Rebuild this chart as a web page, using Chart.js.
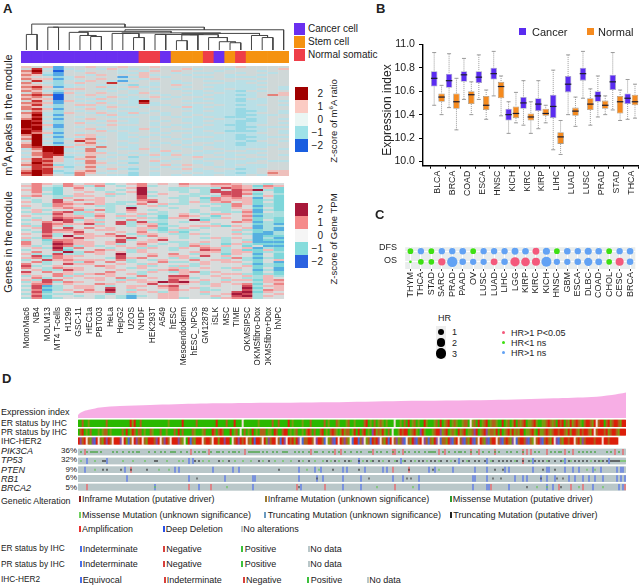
<!DOCTYPE html>
<html>
<head>
<meta charset="utf-8">
<script src="https://cdn.jsdelivr.net/npm/chart.js@4/dist/chart.umd.min.js"></script>
<style>
  html, body { margin: 0; padding: 0; background: #fff; }
  #page { position: relative; width: 644px; height: 586px; overflow: hidden; font-family: "Liberation Sans", Arial, sans-serif; color: #222; }
  canvas { position: absolute; display: block; }
  .txt { position: absolute; white-space: nowrap; line-height: 1; }
  .box { position: absolute; }
  sup { font-size: 0.65em; line-height: 0; }
</style>
</head>
<body>
<div id="page"></div>
<script>
// panel A: samples and z-score rows (digits 0-8 = z from -2 to 2, grouped by five columns)
const samples = ['MonoMac6', 'NB4', 'MOLM13', 'MT4 T-cells', 'H1299', 'GSC-11', 'HEC1a', 'PBT003', 'HeLa', 'HepG2', 'U2OS', 'NHDF', 'HEK293T', 'A549', 'hESC', 'Mesoendoderm', 'hESC_NPCs', 'GM12878', 'iSLK', 'MSC', 'TIME', 'OKMSIPSC', 'OKMSfibro-Dox', 'OKMSfibro+Dox', 'hNPC'];
const sampleTypes = ['c', 'c', 'c', 'c', 'c', 'c', 'c', 'c', 'c', 'c', 'c', 'n', 'n', 'c', 's', 's', 's', 'n', 'c', 's', 'n', 's', 's', 's', 's'];
const m6aRows = [
  '54514 45445 44544 44444 54444', '47313 44354 34444 53443 44445', '68404 34443 43545 44434 44344', '57314 45443 35443 43344 34434',
  '65214 43544 45344 34443 44344', '54423 54441 35434 43343 33444', '65513 44543 43544 44444 44344', '47424 35431 34443 44334 33444',
  '64324 54474 44343 34443 34344', '55423 34343 24345 44333 33444', '67513 44534 53444 34433 33343', '56435 54343 44343 44334 33443',
  '65324 44434 34444 33433 24344', '46415 34544 35344 43343 33445', '67604 45443 44434 33433 23465', '56404 34354 34543 44333 33444',
  '65504 43543 33434 43433 24344', '47415 34344 38444 33333 23343', '66514 43534 37344 44433 33344', '57424 55443 34334 33343 23443',
  '65324 34354 43443 53433 33344', '67514 45343 34444 33333 23344', '46424 34434 34344 43433 22343', '67325 43543 53434 33333 23443',
  '58314 44353 34434 34333 22334', '57424 34434 44343 43432 23344', '68314 45443 34344 33343 32343', '87424 34354 34434 33433 22344',
  '88324 53443 34344 43333 23343', '87514 44354 44343 33432 23444', '88414 34443 34434 34333 22333', '78324 45343 35344 43333 23344',
  '87424 44534 34343 33432 22343', '86514 34443 44434 43343 33443', '68324 55443 34344 33333 23344', '58414 35343 43434 34433 22333',
  '68323 56443 34443 43333 23344', '48424 75344 34344 33343 32443', '58314 46443 44434 34433 23344', '68423 55343 34343 44333 23334',
  '67885 34644 34444 33433 33344', '36883 46443 35344 43443 34443', '45883 36344 44353 44334 43344', '36784 45534 34434 43343 33444',
  '46773 35443 43535 33433 44343', '35752 46434 24344 45443 34444', '57653 55344 34443 44334 43344', '47753 36443 34534 43443 33433',
  '58643 46534 24344 43343 34444', '67723 35443 44353 54343 43344', '47652 46344 34434 44433 33344', '57743 45453 24343 53444 23444',
  '68723 56434 34444 43343 33455', '78732 65344 24344 34333 23465', '68643 64433 24343 43343 34355'
];
const tpmRows = [
  '46546 45534 56454 65566 54434', '56436 53643 46344 54455 65265', '46324 64344 58443 33337 65352', '56324 54343 48443 34374 76832',
  '46424 45434 58344 34377 75342', '45324 54453 48454 43347 76243', '56433 55434 47344 33436 74352', '34435 44544 47443 34265 65142',
  '43474 65544 46644 34365 55232', '53475 44543 35744 35356 45242', '44366 56533 46453 34433 65232', '54365 44334 34534 44343 64132',
  '34456 54434 84443 44433 54242', '45344 63634 64344 43433 45132', '35467 35434 54434 43443 36143', '43375 33543 45334 54355 45233',
  '54465 53645 53424 65424 46133', '43476 64543 45325 54335 45232', '35487 35344 64434 48244 46242', '44657 45547 37334 34544 65132',
  '34765 57347 35524 44434 44231', '53753 44544 34633 45552 54133', '45747 46454 45524 54344 45131', '34766 54554 45323 33444 53231',
  '43755 74445 46435 24444 34213', '54634 65464 35543 35344 53113', '44738 45557 43644 34444 44122', '53645 75445 74454 34353 54131',
  '34266 54447 34574 44443 43122', '64376 55457 45543 34543 45111', '64387 55453 46434 35342 53222', '53476 35345 45344 36545 42411',
  '45383 64434 53543 54653 45132', '34472 44654 35443 44763 52252', '46438 36545 35444 45553 55233', '53473 34548 44546 43542 54142',
  '47265 54447 44645 54745 44242', '56365 44437 56443 53443 63132', '34756 55546 34354 46455 43245', '46345 36464 34463 34545 54241',
  '64347 55445 43544 43544 43132', '73454 44654 45343 53444 45232', '64365 54454 35445 34543 54241', '45337 54445 44356 54444 34131',
  '74645 44464 43543 56354 44242', '54465 35654 53444 54345 53232', '35463 54454 46447 74454 45353', '46345 45546 34546 63445 43354',
  '53764 44543 55447 54543 55256', '35736 54445 45587 85345 44355', '46645 44654 44745 54354 56246', '37134 55434 55467 44454 47355',
  '47234 55474 54456 45344 48245', '36135 46484 35446 54334 47365', '47244 65574 54535 44544 78254', '36333 44434 34455 44345 87345',
  '47244 34343 13455 44454 78354', '36234 44343 14455 34435 66344'
];
// dendrogram merges: left x, left height, right x, right height, merge height
const dendroMerges = [
  [0.5, 0, 1.5, 0, 15], [2.5, 0, 3.5, 0, 22], [6.5, 0, 7.5, 0, 13], [5.5, 0, 7, 13, 14], [4.5, 0, 6.25, 14, 17],
  [10.5, 0, 11.5, 0, 12], [9.5, 0, 11, 12, 16], [8.5, 0, 10.25, 16, 16], [12.5, 0, 13.5, 0, 15], [14.5, 0, 15.5, 0, 9],
  [19.5, 0, 20.5, 0, 7], [18.5, 0, 20, 7, 8], [17.5, 0, 19.25, 8, 12], [22.5, 0, 23.5, 0, 12], [21.5, 0, 23, 12, 14],
  [15, 9, 16.5, 0, 14.5], [15.75, 14.5, 18.4, 12, 14.8], [13, 15, 17, 14.8, 15], [15, 15, 22.25, 14, 16],
  [9.4, 16, 18.6, 16, 16.5], [5.4, 17, 14, 16.5, 18], [9.7, 18, 24.5, 0, 19.5], [3, 22, 17.1, 19.5, 22], [1, 15, 9.7, 22, 25]
];

// panel B: expression index boxes
const tumorTypes = ['BLCA', 'BRCA', 'COAD', 'ESCA', 'HNSC', 'KICH', 'KIRC', 'KIRP', 'LIHC', 'LUAD', 'LUSC', 'PRAD', 'STAD', 'THCA'];
const exprTicks = [10.0, 10.2, 10.4, 10.6, 10.8, 11.0];
const cancerHigh = [10.93, 10.92, 10.88, 10.91, 10.94, 10.51, 10.69, 10.69, 10.78, 10.91, 10.94, 10.73, 10.93, 10.70];
const cancerQ3 = [10.77, 10.75, 10.77, 10.77, 10.80, 10.45, 10.55, 10.54, 10.57, 10.73, 10.80, 10.60, 10.74, 10.58];
const cancerMed = [10.71, 10.69, 10.74, 10.72, 10.75, 10.40, 10.50, 10.49, 10.47, 10.66, 10.75, 10.56, 10.68, 10.54];
const cancerQ1 = [10.64, 10.63, 10.68, 10.67, 10.70, 10.35, 10.45, 10.43, 10.37, 10.59, 10.69, 10.51, 10.61, 10.49];
const cancerLow = [10.48, 10.46, 10.53, 10.53, 10.56, 10.24, 10.31, 10.28, 10.10, 10.40, 10.54, 10.38, 10.44, 10.36];
const normalHigh = [10.65, 10.71, 10.68, 10.61, 10.73, 10.59, 10.51, 10.48, 10.35, 10.55, 10.62, 10.56, 10.61, 10.66];
const normalQ3 = [10.58, 10.58, 10.60, 10.56, 10.68, 10.47, 10.41, 10.45, 10.25, 10.46, 10.54, 10.52, 10.56, 10.57];
const normalMed = [10.55, 10.51, 10.57, 10.48, 10.64, 10.41, 10.38, 10.41, 10.21, 10.43, 10.49, 10.48, 10.51, 10.51];
const normalQ1 = [10.51, 10.45, 10.49, 10.44, 10.54, 10.37, 10.35, 10.39, 10.15, 10.39, 10.44, 10.45, 10.41, 10.48];
const normalLow = [10.40, 10.27, 10.40, 10.36, 10.39, 10.33, 10.24, 10.33, 10.06, 10.30, 10.31, 10.40, 10.35, 10.37];

// panel C: hazard ratios, r = significant, g = HR<1, b = HR>1 ns
const survivalTypes = ['THYM', 'THCA', 'STAD', 'SARC', 'PRAD', 'PAAD', 'OV', 'LUSC', 'LUAD', 'LIHC', 'LGG', 'KIRP', 'KIRC', 'KICH', 'HNSC', 'GBM', 'ESCA', 'DLBC', 'COAD', 'CHOL', 'CESC', 'BRCA'];
const dfsHR = [0.9, 1.1, 0.9, 1.1, 1.1, 1.2, 0.9, 1.1, 1.1, 1.1, 1.3, 1.2, 1.3, 1.4, 0.9, 1.2, 1.1, 1.4, 1.2, 0.9, 1.1, 1.2];
const osHR = [0.2, 0.9, 0.9, 1.5, 3.0, 1.2, 1.1, 1.1, 1.3, 1.2, 2.4, 2.1, 1.8, 2.8, 1.1, 1.1, 1.2, 1.9, 1.3, 0.9, 1.8, 1.2];
const dfsClass = 'gbgbbbgbbbbbrbgbbbbgbb';
const osClass = 'gggrbbbbrbrrrbbbbbbgrb';

// panel D: rank-ordered expression curve and clinical status per sample
const sampleCount = 274;
const exprRank = [0, 1, 3, 6, 11, 21, 36, 61, 86, 126, 161, 206, 237, 256, 266, 273];
const exprIndex = [3, 5, 7, 8.5, 10.5, 12, 13, 14.5, 15, 15.7, 17, 18, 19.7, 21, 23, 25.5];
const erStatus = 'ggnggoggggggggngggggggggggrorggnggggggggg' + 'ggggoggggggrggggggngggggggggrggggngggrgg' + 'gwgggggggoggggggnggnggggrgoggggogggngggg' + 'ggngogggnogggonggoggggnrgogngonogogggwgg' + 'ogngrgongoggrogggongrgonrgonoggonngwongr' + 'gonrgonnoggrgongorgnonrgoonroggoonrnongr' + 'nrgnoronrnognrrnorwnrrgnronrrnorrr';
const prStatus = 'gnrgogngggogonngogggggngrgorngnngoggnogg' + 'gnggogggngrgnggggnogggongggrngnrngggrgon' + 'gwgngogrgognnngoogrnggnrrgogonggognrngng' + 'gnrgognrnogoronngorgrgnrgogpronorogngwgg' + 'ornrrgonrogprogggonrrponrgonogronrgoonpr' + 'gonrponnorgrgonroronorrgoonrogroonrnonrr' + 'nrrnororrnornrrnorwnrrrnronrrnorrrr';
const her2Status = 'rpnrwnopurwnorprnwrrrpwrounwrpnrwnorrrnp' + 'rwnprnwrrrpnowgrunorrrwnrrnwrrorrprrgwnr' + 'prnrwnorurrnwropnrrwnurpwrnrorpwunnrrnwp' + 'rrnuwonpurwrnpnowurrunpwonurnrpwnorurwnp' + 'onpuwnorpunrwpnunorpwunnorpunrwnpunorpun' + 'wrnopunrrwnpunrnopwunrrnpunownrpunrnorw' + 'punorrnrrwnropnrrrrnrrrwrrnrrrr';

// panel D: mutation tracks, values are sample ranks
const pik3caAmp = [3, 56, 65, 83, 116, 128, 131, 147, 157, 158, 162, 180, 183, 196, 200, 208, 222, 224, 226, 234, 243, 247, 268, 272];
const pik3caMis = [1, 4, 6, 7, 8, 9, 11, 17, 19, 22, 25, 27, 29, 30, 35, 38, 41, 43, 46, 47, 48, 51, 54, 58, 60, 62, 63, 66, 69, 70, 72, 75, 77, 78, 80, 85, 86, 87, 88, 89, 90, 92, 94, 97, 99, 102, 103, 104, 108, 110, 112, 115, 118, 119, 122, 125, 127, 130, 133, 136, 139, 141, 145, 146, 149, 151, 154, 157, 160, 163, 165, 168, 170, 173, 175, 176, 177, 178, 182, 185, 188, 190, 191, 193, 196, 199, 202, 205, 208, 210, 214, 216, 219, 222, 228, 230, 236, 238, 240, 241, 245, 250, 252, 254, 256, 258, 264, 266, 270];
const tp53Del = [4, 14, 55, 57, 140, 161, 190, 204, 227, 243, 265];
const tp53Amp = [222];
const tp53Mis = [1, 8, 22, 27, 33, 44, 50, 52, 62, 65, 72, 78, 82, 86, 92, 98, 102, 106, 112, 118, 122, 126, 130, 136, 142, 146, 152, 158, 162, 168, 174, 180, 186, 194, 206, 218, 226, 234, 242, 246, 256, 261, 271, 272, 273];
const tp53Trunc = [12, 13, 38, 39, 58, 60, 70, 75, 90, 95, 110, 115, 124, 128, 133, 135, 140, 144, 147, 150, 155, 159, 163, 166, 170, 172, 176, 178, 181, 184, 188, 192, 195, 198, 200, 203, 207, 210, 212, 214, 216, 219, 222, 225, 228, 230, 232, 235, 238, 241, 245, 248, 250, 252, 254, 258, 260, 262, 264, 266, 267, 268, 269, 270];
const ptenDel = [3, 23, 48, 50, 67, 77, 80, 110, 118, 121, 132, 134, 143, 152, 154, 175, 178, 187, 198, 204, 213, 215, 227, 234, 235, 243, 247, 250, 257, 261, 269, 271, 272];
const ptenAmp = [26, 157, 165];
const ptenTrunc = [12, 14, 21, 26, 34, 100, 127, 140, 165, 177, 208, 212, 232, 238];
const ptenMis = [8, 40, 45, 114, 120, 180, 254, 258];
const rb1Del = [24, 55, 73, 87, 88, 110, 119, 122, 132, 141, 157, 162, 170, 197, 198, 204, 218, 222, 224, 231, 234, 238, 245, 248, 252, 255, 258, 262, 269, 271, 273];
const rb1Trunc = [59, 119, 145, 164, 166, 207, 211, 231, 239, 242];
const brca2Del = [38, 60, 87, 111, 132, 141, 170, 197, 204, 205, 215, 234, 237, 257, 270, 272];
const brca2Amp = [4, 55, 66, 109, 123, 158, 206, 240, 246, 252, 273];
const brca2Mis = [38, 74, 149, 167, 229, 234, 250, 262];
const brca2Trunc = [110, 224, 241];

// legend texts
const geneNames = ['PIK3CA', 'TP53', 'PTEN', 'RB1', 'BRCA2'];
const genePercents = ['36%', '32%', '9%', '6%', '5%'];
const statusTracks = ['Expression index', 'ER status by IHC', 'PR status by IHC', 'IHC-HER2'];

// ---------- layout and colours ----------
const page = document.getElementById('page');
const m6aPalette = ['#1a5ee0', '#55a8e6', '#97d8e4', '#b9dfe6', '#cfd8d8', '#eec0bc', '#e48078', '#c93030', '#a00000'];
const tpmPalette = ['#2b62e0', '#55b0e0', '#7ed6da', '#a9dede', '#d8dcdc', '#f0b8b8', '#ec8486', '#d04a5a', '#a5183a'];
const typeColors = { c: '#6a2ff0', s: '#f59210', n: '#ee3e48' };
const cancerColor = '#5a2cf0';
const normalColor = '#f58a1e';
const hrColors = { r: '#f4597c', g: '#3ee012', b: '#62a2f4' };
const statusColors = { g: '#2ab800', o: '#7d9a10', n: '#b0601a', r: '#dc1f0a', w: '#f2dfd4', u: '#4a6ad8', p: '#8c4a9a' };

Chart.defaults.font.family = '"Liberation Sans", Arial, sans-serif';
Chart.defaults.animation = false;
Chart.defaults.responsive = false;
Chart.defaults.devicePixelRatio = 1;
Chart.defaults.plugins.legend.display = false;
Chart.defaults.plugins.tooltip.enabled = false;

function addCanvas(x, y, w, h) {
  const c = document.createElement('canvas');
  c.width = w;
  c.height = h;
  c.style.left = x + 'px';
  c.style.top = y + 'px';
  c.style.width = w + 'px';
  c.style.height = h + 'px';
  page.appendChild(c);
  return c;
}

// y is the vertical centre of the text
function addText(html, x, y, size, opts) {
  opts = opts || {};
  const d = document.createElement('div');
  d.className = 'txt';
  d.innerHTML = html;
  d.style.left = x + 'px';
  d.style.top = y + 'px';
  d.style.fontSize = size + 'px';
  if (opts.bold) d.style.fontWeight = 'bold';
  if (opts.italic) d.style.fontStyle = 'italic';
  if (opts.vertical) d.style.transform = 'translate(-50%,-50%) rotate(-90deg)';
  else if (opts.right) d.style.transform = 'translate(-100%,-50%)';
  else d.style.transform = 'translateY(-50%)';
  page.appendChild(d);
}

function addBox(x, y, w, h, color) {
  const d = document.createElement('div');
  d.className = 'box';
  d.style.cssText = `left:${x}px;top:${y}px;width:${w}px;height:${h}px;background:${color}`;
  page.appendChild(d);
}

function addDot(x, y, r, color) {
  const d = document.createElement('div');
  d.className = 'box';
  d.style.cssText = `left:${x - r}px;top:${y - r}px;width:${2 * r}px;height:${2 * r}px;background:${color};border-radius:50%`;
  page.appendChild(d);
}

// ---------- panel A ----------
addText('A', 3, 8, 13, { bold: true });

const noPad = { padding: 0 };

new Chart(addCanvas(21, 22, 268, 28), {
  type: 'scatter',
  data: {
    datasets: dendroMerges.map(m => ({
      data: [{ x: m[0], y: m[1] }, { x: m[0], y: m[4] }, { x: m[2], y: m[4] }, { x: m[2], y: m[3] }],
      showLine: true,
      pointRadius: 0,
      borderColor: '#444',
      borderWidth: 1,
      tension: 0
    }))
  },
  options: {
    layout: noPad,
    scales: {
      x: { type: 'linear', min: 0, max: 25, display: false },
      y: { min: 0, max: 27, display: false }
    }
  }
});

new Chart(addCanvas(21, 51, 268, 12), {
  type: 'bar',
  data: {
    labels: samples,
    datasets: [{
      data: sampleTypes.map(() => 1),
      backgroundColor: sampleTypes.map(t => typeColors[t]),
      barPercentage: 1,
      categoryPercentage: 1
    }]
  },
  options: {
    layout: noPad,
    scales: { x: { display: false }, y: { min: 0, max: 1, display: false } }
  }
});

function heatDatasets(rows, palette) {
  return rows.map(row => {
    const cells = row.replace(/ /g, '');
    return {
      data: samples.map(() => 1),
      backgroundColor: samples.map((s, i) => palette[Number(cells[i] || 4)]),
      barPercentage: 1.02,
      categoryPercentage: 1,
      borderWidth: 0
    };
  });
}

new Chart(addCanvas(21, 66, 268, 110), {
  type: 'bar',
  data: { labels: samples, datasets: heatDatasets(m6aRows, m6aPalette) },
  options: {
    layout: noPad,
    scales: {
      x: { stacked: true, display: false },
      y: { stacked: true, reverse: true, min: 0, max: m6aRows.length, display: false }
    }
  }
});

new Chart(addCanvas(21, 183, 268, 182), {
  type: 'bar',
  data: { labels: samples, datasets: heatDatasets(tpmRows, tpmPalette) },
  options: {
    layout: noPad,
    scales: {
      x: {
        stacked: true,
        afterFit: s => { s.height = 66; },
        border: { display: false },
        grid: { display: false },
        ticks: { autoSkip: false, minRotation: 90, maxRotation: 90, padding: 0, color: '#222', font: { size: 8.4 } }
      },
      y: { stacked: true, reverse: true, min: 0, max: tpmRows.length, display: false }
    }
  }
});

addText('m<sup>6</sup>A peaks in the module', 8, 115, 11, { vertical: true });
addText('Genes in the module', 8, 242, 11, { vertical: true });

addBox(294, 23, 11, 12, typeColors.c);
addBox(294, 36, 11, 12, typeColors.s);
addBox(294, 49, 11, 12, typeColors.n);
addText('Cancer cell', 308, 29, 10);
addText('Stem cell', 308, 42, 10);
addText('Normal somatic', 308, 55, 10);

function zLegend(top, colors, title, titleY) {
  const labels = ['2', '1', '0', '\u22121', '\u22122'];
  colors.forEach((c, i) => {
    addBox(295, top + i * 13, 12.5, 13, c);
    addText(labels[i], 323, top + 6.5 + i * 13, 10, { right: true });
  });
  addText(title, 334, titleY, 9.5, { vertical: true });
}
zLegend(87, ['#a00000', '#fbcbc3', '#eaf6f4', '#9fe2e8', '#1a5ee0'], 'Z-score of m<sup>6</sup>A ratio', 121);
zLegend(203, ['#a8183a', '#f58a8a', '#f5f5f5', '#86dcdc', '#2b62e0'], 'Z-score of Gene TPM', 239);

// ---------- panel B ----------
addText('B', 376, 8, 13, { bold: true });

function whiskers(chart, metaIndex, low, q1, q3, high) {
  const ctx = chart.ctx;
  const y = chart.scales.y;
  chart.getDatasetMeta(metaIndex).data.forEach((bar, i) => {
    ctx.save();
    ctx.strokeStyle = '#9a9a9a';
    ctx.lineWidth = 1;
    ctx.setLineDash([1, 1]);
    ctx.beginPath();
    ctx.moveTo(bar.x, y.getPixelForValue(high[i]));
    ctx.lineTo(bar.x, y.getPixelForValue(q3[i]));
    ctx.moveTo(bar.x, y.getPixelForValue(q1[i]));
    ctx.lineTo(bar.x, y.getPixelForValue(low[i]));
    ctx.stroke();
    ctx.setLineDash([]);
    ctx.beginPath();
    ctx.moveTo(bar.x - 2, y.getPixelForValue(high[i]));
    ctx.lineTo(bar.x + 2, y.getPixelForValue(high[i]));
    ctx.moveTo(bar.x - 2, y.getPixelForValue(low[i]));
    ctx.lineTo(bar.x + 2, y.getPixelForValue(low[i]));
    ctx.stroke();
    ctx.restore();
  });
}

function medians(chart, metaIndex, med) {
  const ctx = chart.ctx;
  const y = chart.scales.y;
  chart.getDatasetMeta(metaIndex).data.forEach((bar, i) => {
    ctx.save();
    ctx.strokeStyle = '#1c1c30';
    ctx.lineWidth = 1.2;
    ctx.beginPath();
    ctx.moveTo(bar.x - bar.width / 2, y.getPixelForValue(med[i]));
    ctx.lineTo(bar.x + bar.width / 2, y.getPixelForValue(med[i]));
    ctx.stroke();
    ctx.restore();
  });
}

const boxPlugin = {
  id: 'boxParts',
  beforeDatasetsDraw(chart) {
    whiskers(chart, 0, cancerLow, cancerQ1, cancerQ3, cancerHigh);
    whiskers(chart, 1, normalLow, normalQ1, normalQ3, normalHigh);
  },
  afterDatasetsDraw(chart) {
    medians(chart, 0, cancerMed);
    medians(chart, 1, normalMed);
  }
};

new Chart(addCanvas(390, 34, 254, 166), {
  type: 'bar',
  data: {
    datasets: [
      { label: 'Cancer', data: tumorTypes.map((t, i) => ({ x: i, y: [cancerQ1[i], cancerQ3[i]] })), backgroundColor: cancerColor, borderColor: '#a9a9c0', borderWidth: 0.8, borderSkipped: false },
      { label: 'Normal', data: tumorTypes.map((t, i) => ({ x: i, y: [normalQ1[i], normalQ3[i]] })), backgroundColor: normalColor, borderColor: '#a99a88', borderWidth: 0.8, borderSkipped: false }
    ]
  },
  options: {
    layout: { padding: { top: 6, right: 4, left: 0, bottom: 0 } },
    datasets: { bar: { categoryPercentage: 0.99, barPercentage: 0.88 } },
    scales: {
      x: {
        type: 'linear', min: -1, max: 13.5, offset: false,
        afterFit: s => { s.height = 34.3; },
        border: { color: '#000', width: 1.4 },
        grid: { drawOnChartArea: false, color: '#000', tickLength: 3 },
        afterBuildTicks: s => { s.ticks = tumorTypes.map((t, i) => ({ value: i })); },
        ticks: { autoSkip: false, minRotation: 90, maxRotation: 90, padding: 2, color: '#222', font: { size: 8.8 }, callback: v => tumorTypes[v] }
      },
      y: {
        min: 9.964, max: 11,
        afterFit: s => { s.width = 33; },
        border: { color: '#000', width: 1.4 },
        grid: { drawOnChartArea: false, color: '#000', tickLength: 4 },
        afterBuildTicks: s => { s.ticks = exprTicks.map(v => ({ value: v })); },
        ticks: { padding: 4, color: '#222', font: { size: 10.6 }, callback: v => v.toFixed(1) }
      }
    }
  },
  plugins: [boxPlugin]
});

addText('Expression index', 387, 110, 12, { vertical: true });
addBox(519, 28, 7, 6.5, cancerColor);
addText('Cancer', 532, 31.5, 11);
addBox(587, 28, 6.5, 6.5, normalColor);
addText('Normal', 598, 31.5, 11);

// ---------- panel C ----------
addText('C', 375, 214, 13, { bold: true });

function hrRadius(hr) {
  return 3 * Math.sqrt(hr);
}

function bubbleSet(hrs, classes, level) {
  return {
    data: hrs.map((hr, i) => ({ x: i, y: level, r: hrRadius(hr) })),
    backgroundColor: hrs.map((hr, i) => hrColors[classes[i]]),
    borderWidth: 0,
    clip: false
  };
}

const bandPlugin = {
  id: 'bandBg',
  beforeDraw(chart) {
    const a = chart.chartArea;
    chart.ctx.fillStyle = '#e9eded';
    chart.ctx.fillRect(a.left, a.top, a.width, a.height);
  }
};

new Chart(addCanvas(400, 242, 242, 62), {
  type: 'bubble',
  data: { datasets: [bubbleSet(dfsHR, dfsClass, 1.5), bubbleSet(osHR, osClass, 0.5)] },
  options: {
    layout: noPad,
    scales: {
      x: {
        type: 'linear', min: -0.5, max: 21.5,
        afterFit: s => { s.height = 35; },
        border: { display: false },
        grid: { color: '#fff', tickColor: '#444', tickLength: 2 },
        afterBuildTicks: s => { s.ticks = survivalTypes.map((t, i) => ({ value: i })); },
        ticks: { autoSkip: false, minRotation: 90, maxRotation: 90, padding: 1, color: '#222', font: { size: 9 }, callback: v => survivalTypes[v] }
      },
      y: {
        min: -0.18, max: 1.88,
        display: true,
        afterFit: s => { s.width = 0; },
        border: { display: false },
        grid: { color: '#fff', drawTicks: false },
        afterBuildTicks: s => { s.ticks = [{ value: 0.5 }, { value: 1.5 }]; },
        ticks: { display: false }
      }
    }
  },
  plugins: [bandPlugin]
});

addText('DFS', 397, 247, 9, { right: true });
addText('OS', 397, 260, 9, { right: true });

addText('HR', 438, 318, 9);
[1, 2, 3].forEach((hr, i) => {
  addBox(436, 326 + i * 11, 10, 11, '#eeeeee');
  addDot(441, 331.5 + i * 11, hrRadius(hr), '#000');
  addText(String(hr), 452, 331.5 + i * 11, 9);
});
[['r', 'HR>1 P<0.05'], ['g', 'HR<1 ns'], ['b', 'HR>1 ns']].forEach((item, i) => {
  addDot(503.5, 332.5 + i * 10, 1.5, hrColors[item[0]]);
  addText(item[1].replace('<', '&lt;'), 511, 332.5 + i * 10, 9);
});

// ---------- panel D ----------
addText('D', 2, 378, 13, { bold: true });

new Chart(addCanvas(78, 388, 548, 30), {
  type: 'line',
  data: {
    datasets: [{
      data: exprRank.map((r, i) => ({ x: r, y: exprIndex[i] })),
      borderWidth: 0,
      pointRadius: 0,
      tension: 0.3,
      fill: 'origin',
      backgroundColor: '#f7aee5'
    }]
  },
  options: {
    layout: noPad,
    scales: {
      x: { type: 'linear', min: 0, max: 273, display: false },
      y: { min: 0, max: 30, display: false }
    }
  }
});

// track rows in px below the top of the oncoprint canvas (y = 418)
const trackTop = 418;
const erBand = [2, 8.7];
const prBand = [11, 17.3];
const her2Band = [19.7, 26.3];
const geneBands = [[31, 37], [40, 46], [48.7, 54.7], [57.3, 63.7], [66, 72.3]];
const trackGrey = '#b9c7c9';
const ampColor = '#e8686c';
const delColor = '#5f7ce6';
const sampleAxis = Array.from({ length: sampleCount }, (_, i) => i);

function fullBars(band, color) {
  return { data: sampleAxis.map(() => band), backgroundColor: color };
}

function statusBars(status, band) {
  return {
    data: sampleAxis.map(i => (status[i] ? band : null)),
    backgroundColor: sampleAxis.map(i => statusColors[status[i]] || '#fff')
  };
}

function markBars(list, band, color, inner) {
  let b = band;
  if (inner) {
    const third = (band[1] - band[0]) / 3;
    b = [band[0] + third, band[1] - third];
  }
  return { data: sampleAxis.map(i => (list.includes(i) ? b : null)), backgroundColor: color, barPercentage: inner ? 0.6 : 0.7 };
}

new Chart(addCanvas(78, trackTop, 548, 74), {
  type: 'bar',
  data: {
    labels: sampleAxis,
    datasets: [
      statusBars(erStatus, erBand),
      statusBars(prStatus, prBand),
      statusBars(her2Status, her2Band),
      markBars(pik3caMis, geneBands[0], '#3aa030', true),
      markBars(tp53Trunc, geneBands[1], '#2a2a2a', true),
      markBars(tp53Mis, geneBands[1], '#63c552', true),
      markBars(ptenTrunc, geneBands[2], '#2a2a2a', true),
      markBars(ptenMis, geneBands[2], '#63c552', true),
      markBars(rb1Trunc, geneBands[3], '#444', true),
      markBars(brca2Trunc, geneBands[4], '#444', true),
      markBars(brca2Mis, geneBands[4], '#63c552', true),
      markBars(pik3caAmp, geneBands[0], ampColor),
      markBars(tp53Amp, geneBands[1], ampColor),
      markBars(tp53Del, geneBands[1], delColor),
      markBars(ptenAmp, geneBands[2], ampColor),
      markBars(ptenDel, geneBands[2], delColor),
      markBars(rb1Del, geneBands[3], delColor),
      markBars(brca2Amp, geneBands[4], ampColor),
      markBars(brca2Del, geneBands[4], delColor)
    ].concat(geneBands.map(b => fullBars(b, trackGrey)))
  },
  options: {
    layout: noPad,
    datasets: { bar: { grouped: false, barPercentage: 1, categoryPercentage: 1, borderWidth: 0 } },
    scales: {
      x: { display: false },
      y: { reverse: true, min: 0, max: 74, display: false }
    }
  }
});

addText(statusTracks[0], 1, 412, 9);
addText(statusTracks[1], 1, 422.5, 8.6);
addText(statusTracks[2], 1, 432, 8.6);
addText(statusTracks[3], 1, 440.5, 8.6);
[451, 460, 470, 478.7, 488].forEach((y, i) => {
  addText(geneNames[i], 1, y, 9, { italic: true });
  addText(genePercents[i], 77, y - 0.5, 8, { right: true });
});

function legendItem(x, y, markColor, text, textX) {
  addBox(Math.round(x), y - 3, 2, 6, markColor);
  addText(text, textX, y, 9);
}

addText('Genetic Alteration', 1, 500.7, 8.8);
legendItem(78.5, 499.3, '#8c2020', 'Inframe Mutation (putative driver)', 82);
legendItem(264.5, 499.3, '#9a7a30', 'Inframe Mutation (unknown significance)', 267.7);
legendItem(449.5, 499.3, '#2f9a30', 'Missense Mutation (putative driver)', 452.7);
legendItem(78.5, 515, '#70d060', 'Missense Mutation (unknown significance)', 82);
legendItem(264, 515, '#6a9ac0', 'Truncating Mutation (unknown significance)', 267.7);
legendItem(450, 515, '#222', 'Truncating Mutation (putative driver)', 453.3);
legendItem(78.5, 529, '#e83030', 'Amplification', 82);
legendItem(162.5, 529, '#2a50e8', 'Deep Deletion', 165.7);
legendItem(240.5, 529, '#b9c7c9', 'No alterations', 243.3);

addText(statusTracks[1], 1, 548, 8.3);
legendItem(79.5, 548.5, '#4a70e8', 'Indeterminate', 82.7);
legendItem(162.5, 548.5, '#d8403c', 'Negative', 166.3);
legendItem(241, 548.5, '#3cc03c', 'Positive', 244.7);
legendItem(307.5, 548.5, '#b9c7c9', 'No data', 310.3);

addText(statusTracks[2], 1, 563.5, 8.3);
legendItem(79.5, 564, '#4a70e8', 'Indeterminate', 82.7);
legendItem(162.5, 564, '#d8403c', 'Negative', 166.3);
legendItem(241, 564, '#3cc03c', 'Positive', 244.7);
legendItem(307.5, 564, '#b9c7c9', 'No data', 310.3);

addText(statusTracks[3], 1, 579, 8.3);
legendItem(79.5, 580, '#4a70e8', 'Equivocal', 82.7);
legendItem(163.5, 580, '#d8403c', 'Indeterminate', 166.7);
legendItem(243, 580, '#d8403c', 'Negative', 246);
legendItem(307, 580, '#3cc03c', 'Positive', 310.7);
legendItem(366.5, 580, '#b9c7c9', 'No data', 369.3);
</script>
</body>
</html>
